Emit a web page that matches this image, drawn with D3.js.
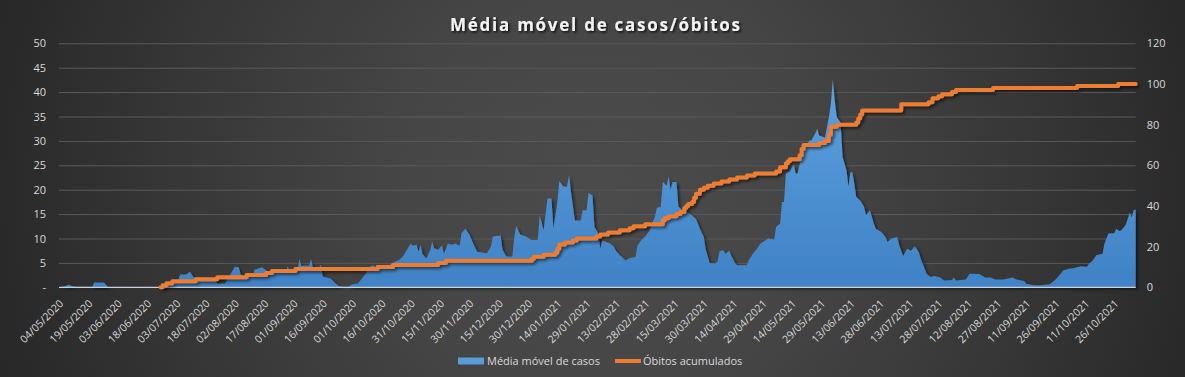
<!DOCTYPE html>
<html>
<head>
<meta charset="utf-8">
<script src="https://cdn.jsdelivr.net/npm/d3@7"></script>
<style>
  body { margin: 0; background: #2b2b2b; }
  svg { display: block; }
</style>
</head>
<body>
<svg id="chart"></svg>
<script>
// moving average of cases (left axis)
const caseDates = [
  "04/05/2020","07/05/2020","09/05/2020","11/05/2020","13/05/2020","21/05/2020","22/05/2020","27/05/2020","29/05/2020","31/05/2020",
  "25/06/2020","28/06/2020","01/07/2020","04/07/2020","05/07/2020","08/07/2020","10/07/2020","12/07/2020","15/07/2020","22/07/2020",
  "24/07/2020","28/07/2020","30/07/2020","02/08/2020","04/08/2020","05/08/2020","07/08/2020","11/08/2020","12/08/2020","16/08/2020",
  "18/08/2020","20/08/2020","28/08/2020","29/08/2020","30/08/2020","03/09/2020","04/09/2020","05/09/2020","09/09/2020","10/09/2020",
  "11/09/2020","14/09/2020","15/09/2020","16/09/2020","20/09/2020","22/09/2020","24/09/2020","26/09/2020","29/09/2020","01/10/2020",
  "04/10/2020","06/10/2020","08/10/2020","10/10/2020","12/10/2020","13/10/2020","19/10/2020","21/10/2020","25/10/2020","27/10/2020",
  "31/10/2020","01/11/2020","03/11/2020","04/11/2020","05/11/2020","06/11/2020","08/11/2020","10/11/2020","11/11/2020","12/11/2020",
  "14/11/2020","16/11/2020","17/11/2020","19/11/2020","21/11/2020","23/11/2020","25/11/2020","26/11/2020","28/11/2020","30/11/2020",
  "02/12/2020","04/12/2020","09/12/2020","11/12/2020","12/12/2020","16/12/2020","17/12/2020","19/12/2020","22/12/2020","23/12/2020",
  "24/12/2020","26/12/2020","29/12/2020","01/01/2021","04/01/2021","05/01/2021","07/01/2021","09/01/2021","11/01/2021","12/01/2021",
  "14/01/2021","15/01/2021","17/01/2021","19/01/2021","20/01/2021","21/01/2021","23/01/2021","26/01/2021","27/01/2021","29/01/2021",
  "30/01/2021","01/02/2021","02/02/2021","04/02/2021","05/02/2021","06/02/2021","10/02/2021","12/02/2021","13/02/2021","15/02/2021",
  "18/02/2021","20/02/2021","23/02/2021","24/02/2021","26/02/2021","28/02/2021","02/03/2021","03/03/2021","05/03/2021","06/03/2021",
  "08/03/2021","09/03/2021","11/03/2021","12/03/2021","13/03/2021","14/03/2021","16/03/2021","17/03/2021","20/03/2021","22/03/2021",
  "24/03/2021","26/03/2021","28/03/2021","30/03/2021","31/03/2021","02/04/2021","05/04/2021","06/04/2021","07/04/2021","09/04/2021",
  "10/04/2021","12/04/2021","13/04/2021","15/04/2021","16/04/2021","21/04/2021","22/04/2021","24/04/2021","26/04/2021","28/04/2021",
  "30/04/2021","02/05/2021","05/05/2021","06/05/2021","08/05/2021","09/05/2021","10/05/2021","11/05/2021","13/05/2021","15/05/2021",
  "16/05/2021","17/05/2021","19/05/2021","21/05/2021","23/05/2021","24/05/2021","26/05/2021","27/05/2021","28/05/2021","31/05/2021",
  "02/06/2021","03/06/2021","04/06/2021","05/06/2021","06/06/2021","08/06/2021","09/06/2021","11/06/2021","12/06/2021","13/06/2021",
  "14/06/2021","15/06/2021","16/06/2021","18/06/2021","20/06/2021","21/06/2021","23/06/2021","25/06/2021","26/06/2021","29/06/2021",
  "01/07/2021","02/07/2021","04/07/2021","07/07/2021","08/07/2021","10/07/2021","12/07/2021","14/07/2021","16/07/2021","18/07/2021",
  "19/07/2021","20/07/2021","22/07/2021","24/07/2021","26/07/2021","29/07/2021","31/07/2021","04/08/2021","05/08/2021","06/08/2021",
  "11/08/2021","13/08/2021","18/08/2021","21/08/2021","24/08/2021","26/08/2021","30/08/2021","04/09/2021","06/09/2021","10/09/2021",
  "11/09/2021","15/09/2021","18/09/2021","23/09/2021","26/09/2021","28/09/2021","30/09/2021","03/10/2021","05/10/2021","09/10/2021",
  "12/10/2021","13/10/2021","15/10/2021","17/10/2021","20/10/2021","21/10/2021","23/10/2021","26/10/2021","27/10/2021","29/10/2021",
  "31/10/2021","01/11/2021","03/11/2021","04/11/2021","05/11/2021","06/11/2021"
];
const caseValues = [
  0,0.2,0.5,0.2,0.1,0.1,1.0,1.0,0.1,0,
  0,0.5,1.2,1.5,2.6,2.6,3.2,2.0,1.9,1.9,
  0.8,0.8,2.2,4.2,4.1,2.6,2.1,2.1,3.6,4.1,
  3.5,3.0,3.0,4.3,3.4,3.3,5.8,4.4,4.4,5.8,
  3.9,3.9,4.6,2.2,1.8,1.0,0.3,0.1,0.1,0.6,
  0.8,1.8,2.8,4.2,4.5,3.8,3.8,4.9,5.6,6.3,
  9.0,8.5,8.7,7.3,8.7,6.8,5.9,7.7,9.4,8.0,
  7.7,8.6,6.9,9.0,8.7,9.0,8.5,11.1,12.0,10.8,
  9.0,7.3,7.0,8.3,10.4,10.6,7.7,6.3,6.3,10.4,
  12.6,10.8,10.4,9.7,9.7,14.8,11.7,18.2,18.2,12.1,
  17.2,21.8,20.7,20.6,23.0,19.6,13.7,13.7,15.8,15.8,
  19.3,18.8,12.4,11.0,7.9,9.6,9.0,8.3,7.5,6.6,
  5.5,6.0,6.2,8.5,9.7,10.4,11.5,12.4,14.5,16.3,
  16.5,21.6,20.8,22.7,20.0,21.6,21.6,16.5,15.5,15.3,
  14.7,14.0,12.0,10.3,7.7,5.0,4.9,5.3,7.4,7.6,
  6.9,7.5,6.5,5.0,4.5,4.5,5.6,6.8,7.8,9.0,
  9.5,10.0,9.8,12.4,13.0,17.5,17.5,23.3,23.8,25.3,
  23.3,23.3,27.0,28.8,30.1,30.1,31.5,32.5,31.1,30.7,
  34.9,37.6,42.6,38.3,34.9,33.7,26.7,24.0,20.6,23.6,
  23.6,21.2,18.5,17.8,16.5,14.8,15.8,13.0,12.0,11.3,
  10.3,9.3,10.0,10.3,8.6,6.4,7.9,7.5,8.4,7.2,
  5.9,4.9,2.8,2.1,2.3,2.0,1.4,1.5,2.0,1.4,
  1.6,2.8,2.7,2.0,2.0,1.6,1.6,2.0,1.6,1.3,
  0.75,0.4,0.4,0.6,1.6,2.5,3.5,3.8,3.9,4.3,
  4.2,4.8,5.5,6.6,6.9,8.9,11.0,11.1,12.0,11.5,
  12.3,12.9,15.4,14.3,15.9,15.9
];

// cumulative deaths (right axis): date of each change and the new total
const deathDates = [
  "25/06/2020","26/06/2020","28/06/2020","01/07/2020","13/07/2020","24/07/2020","08/08/2020","18/08/2020","21/08/2020","02/09/2020",
  "14/10/2020","22/10/2020","14/11/2020","18/11/2020","01/01/2021","02/01/2021","07/01/2021","13/01/2021","14/01/2021","15/01/2021",
  "18/01/2021","22/01/2021","24/01/2021","03/02/2021","05/02/2021","09/02/2021","15/02/2021","20/02/2021","22/02/2021","28/02/2021",
  "09/03/2021","10/03/2021","12/03/2021","16/03/2021","18/03/2021","20/03/2021","21/03/2021","22/03/2021","24/03/2021","25/03/2021",
  "26/03/2021","28/03/2021","30/03/2021","01/04/2021","04/04/2021","08/04/2021","12/04/2021","16/04/2021","21/04/2021","25/04/2021",
  "06/05/2021","08/05/2021","11/05/2021","12/05/2021","13/05/2021","18/05/2021","19/05/2021","20/05/2021","28/05/2021","31/05/2021",
  "02/06/2021","03/06/2021","06/06/2021","16/06/2021","17/06/2021","18/06/2021","19/06/2021","09/07/2021","23/07/2021","25/07/2021",
  "28/07/2021","30/07/2021","04/08/2021","06/08/2021","25/08/2021","07/10/2021","28/10/2021","06/11/2021"
];
const deathValues = [
  0,1,2,3,4,5,6,7,8,9,
  10,11,12,13,14,15,16,17,19,21,
  22,23,24,25,26,27,28,29,30,31,
  33,34,35,36,37,39,40,41,42,44,
  46,48,49,50,51,52,53,54,55,56,
  57,59,61,62,63,65,68,70,71,72,
  75,79,80,81,83,85,87,90,91,93,
  94,95,96,97,98,99,100,100
];

const tickLabels = [
  "04/05/2020","19/05/2020","03/06/2020","18/06/2020","03/07/2020","18/07/2020","02/08/2020","17/08/2020",
  "01/09/2020","16/09/2020","01/10/2020","16/10/2020","31/10/2020","15/11/2020","30/11/2020","15/12/2020",
  "30/12/2020","14/01/2021","29/01/2021","13/02/2021","28/02/2021","15/03/2021","30/03/2021","14/04/2021",
  "29/04/2021","14/05/2021","29/05/2021","13/06/2021","28/06/2021","13/07/2021","28/07/2021","12/08/2021",
  "27/08/2021","11/09/2021","26/09/2021","11/10/2021","26/10/2021"
];
const leftTicks = [0, 5, 10, 15, 20, 25, 30, 35, 40, 45, 50];
const rightTicks = [0, 20, 40, 60, 80, 100, 120];

const chartTitle = "Média móvel de casos/óbitos";
const seriesNames = ["Média móvel de casos", "Óbitos acumulados"];

const width = 1185;
const height = 377;
const plotLeft = 59, plotRight = 1135.7, plotTop = 43.3, plotBottom = 287.3;
const font = "'Open Sans', 'DejaVu Sans', sans-serif";
const textColor = "#d9d9d9";

const parseDate = d3.timeParse("%d/%m/%Y");
const cases = caseDates.map((d, i) => ({ date: parseDate(d), value: caseValues[i] }));
const deaths = deathDates.map((d, i) => ({ date: parseDate(d), value: deathValues[i] }));

const xScale = d3.scaleTime()
  .domain(d3.extent(cases, d => d.date))
  .range([plotLeft, plotRight]);
const yLeft = d3.scaleLinear().domain([0, 50]).range([plotBottom, plotTop]);
const yRight = d3.scaleLinear().domain([0, 120]).range([plotBottom, plotTop]);

const svg = d3.select("#chart")
  .attr("width", width)
  .attr("height", height)
  .style("font-family", font);

const defs = svg.append("defs");

const bg = defs.append("radialGradient")
  .attr("id", "bg")
  .attr("gradientUnits", "userSpaceOnUse")
  .attr("cx", 600).attr("cy", 190).attr("r", 660);
bg.append("stop").attr("offset", "0").attr("stop-color", "#4b4b4b");
bg.append("stop").attr("offset", "0.3").attr("stop-color", "#464646");
bg.append("stop").attr("offset", "0.62").attr("stop-color", "#383838");
bg.append("stop").attr("offset", "1").attr("stop-color", "#252525");

const areaFill = defs.append("linearGradient")
  .attr("id", "areaFill")
  .attr("gradientUnits", "userSpaceOnUse")
  .attr("x1", 0).attr("y1", plotTop).attr("x2", 0).attr("y2", plotBottom);
areaFill.append("stop").attr("offset", "0").attr("stop-color", "#62a6e4");
areaFill.append("stop").attr("offset", "1").attr("stop-color", "#3f82c5");

const shadow = defs.append("filter")
  .attr("id", "shadow")
  .attr("x", "-5%").attr("y", "-20%").attr("width", "110%").attr("height", "140%");
shadow.append("feDropShadow")
  .attr("dx", 2).attr("dy", 2).attr("stdDeviation", 1.8)
  .attr("flood-color", "#000").attr("flood-opacity", 0.55);

const titleShadow = defs.append("filter").attr("id", "titleShadow");
titleShadow.append("feDropShadow")
  .attr("dx", 1.5).attr("dy", 1.5).attr("stdDeviation", 1)
  .attr("flood-color", "#000").attr("flood-opacity", 0.8);

svg.append("rect")
  .attr("width", width)
  .attr("height", height)
  .attr("fill", "url(#bg)");

// gridlines from the left axis
svg.append("g")
  .attr("transform", `translate(${plotLeft},0)`)
  .call(d3.axisLeft(yLeft).tickValues(leftTicks.slice(1)).tickSize(-(plotRight - plotLeft)).tickFormat(""))
  .call(g => g.select(".domain").remove())
  .call(g => g.selectAll("line").attr("stroke", "#5a5a5a").attr("stroke-width", 1));

// cases area
const area = d3.area()
  .x(d => xScale(d.date))
  .y0(yLeft(0))
  .y1(d => yLeft(d.value));

svg.append("path")
  .datum(cases)
  .attr("d", area)
  .attr("fill", "url(#areaFill)")
  .attr("filter", "url(#shadow)");

// x axis line
svg.append("line")
  .attr("x1", plotLeft).attr("x2", plotRight)
  .attr("y1", yLeft(0)).attr("y2", yLeft(0))
  .attr("stroke", "#c8d2dc").attr("stroke-width", 1.2);

// deaths line
const line = d3.line()
  .x(d => xScale(d.date))
  .y(d => yRight(d.value))
  .curve(d3.curveStepAfter);

svg.append("path")
  .datum(deaths)
  .attr("d", line)
  .attr("fill", "none")
  .attr("stroke", "#ed7d31")
  .attr("stroke-width", 4)
  .attr("stroke-linejoin", "round")
  .attr("stroke-linecap", "round")
  .attr("filter", "url(#shadow)");

// left axis
svg.append("g")
  .attr("transform", `translate(${plotLeft},0)`)
  .call(d3.axisLeft(yLeft).tickValues(leftTicks).tickSize(0).tickPadding(13)
    .tickFormat(d => d === 0 ? "-" : d))
  .call(g => g.select(".domain").remove())
  .call(g => g.selectAll("text").attr("fill", textColor).style("font-size", "11px").style("font-family", font));

// right axis
svg.append("g")
  .attr("transform", `translate(${plotRight},0)`)
  .call(d3.axisRight(yRight).tickValues(rightTicks).tickSize(0).tickPadding(11))
  .call(g => g.select(".domain").remove())
  .call(g => g.selectAll("text").attr("fill", textColor).style("font-size", "11px").style("font-family", font));

// x axis labels
svg.append("g")
  .attr("transform", `translate(0,${plotBottom})`)
  .call(d3.axisBottom(xScale).tickValues(tickLabels.map(parseDate)).tickSize(0)
    .tickFormat(d3.timeFormat("%d/%m/%Y")))
  .call(g => g.select(".domain").remove())
  .call(g => g.selectAll("text")
    .attr("fill", textColor)
    .style("font-size", "10.5px")
    .style("font-family", font)
    .attr("text-anchor", "end")
    .attr("dx", 0).attr("dy", 0)
    .attr("y", 0)
    .attr("transform", "translate(4.5,17) rotate(-45)"));

// title
svg.append("text")
  .attr("x", 595)
  .attr("y", 31)
  .attr("text-anchor", "middle")
  .attr("fill", "#f2f2f2")
  .attr("font-weight", "bold")
  .attr("font-size", 17)
  .attr("textLength", 290)
  .attr("lengthAdjust", "spacing")
  .attr("filter", "url(#titleShadow)")
  .text(chartTitle);

// legend
const legend = svg.append("g").attr("transform", "translate(0,361)");
legend.append("rect")
  .attr("x", 458).attr("y", -3.5).attr("width", 26).attr("height", 7)
  .attr("fill", "#5b9bd5");
legend.append("text")
  .attr("x", 487).attr("y", 0).attr("dy", "0.35em")
  .attr("fill", textColor).attr("font-size", 11)
  .text(seriesNames[0]);
legend.append("line")
  .attr("x1", 615).attr("x2", 641).attr("y1", 0).attr("y2", 0)
  .attr("stroke", "#ed7d31").attr("stroke-width", 4);
legend.append("text")
  .attr("x", 643).attr("y", 0).attr("dy", "0.35em")
  .attr("fill", textColor).attr("font-size", 11)
  .text(seriesNames[1]);
</script>
</body>
</html>
